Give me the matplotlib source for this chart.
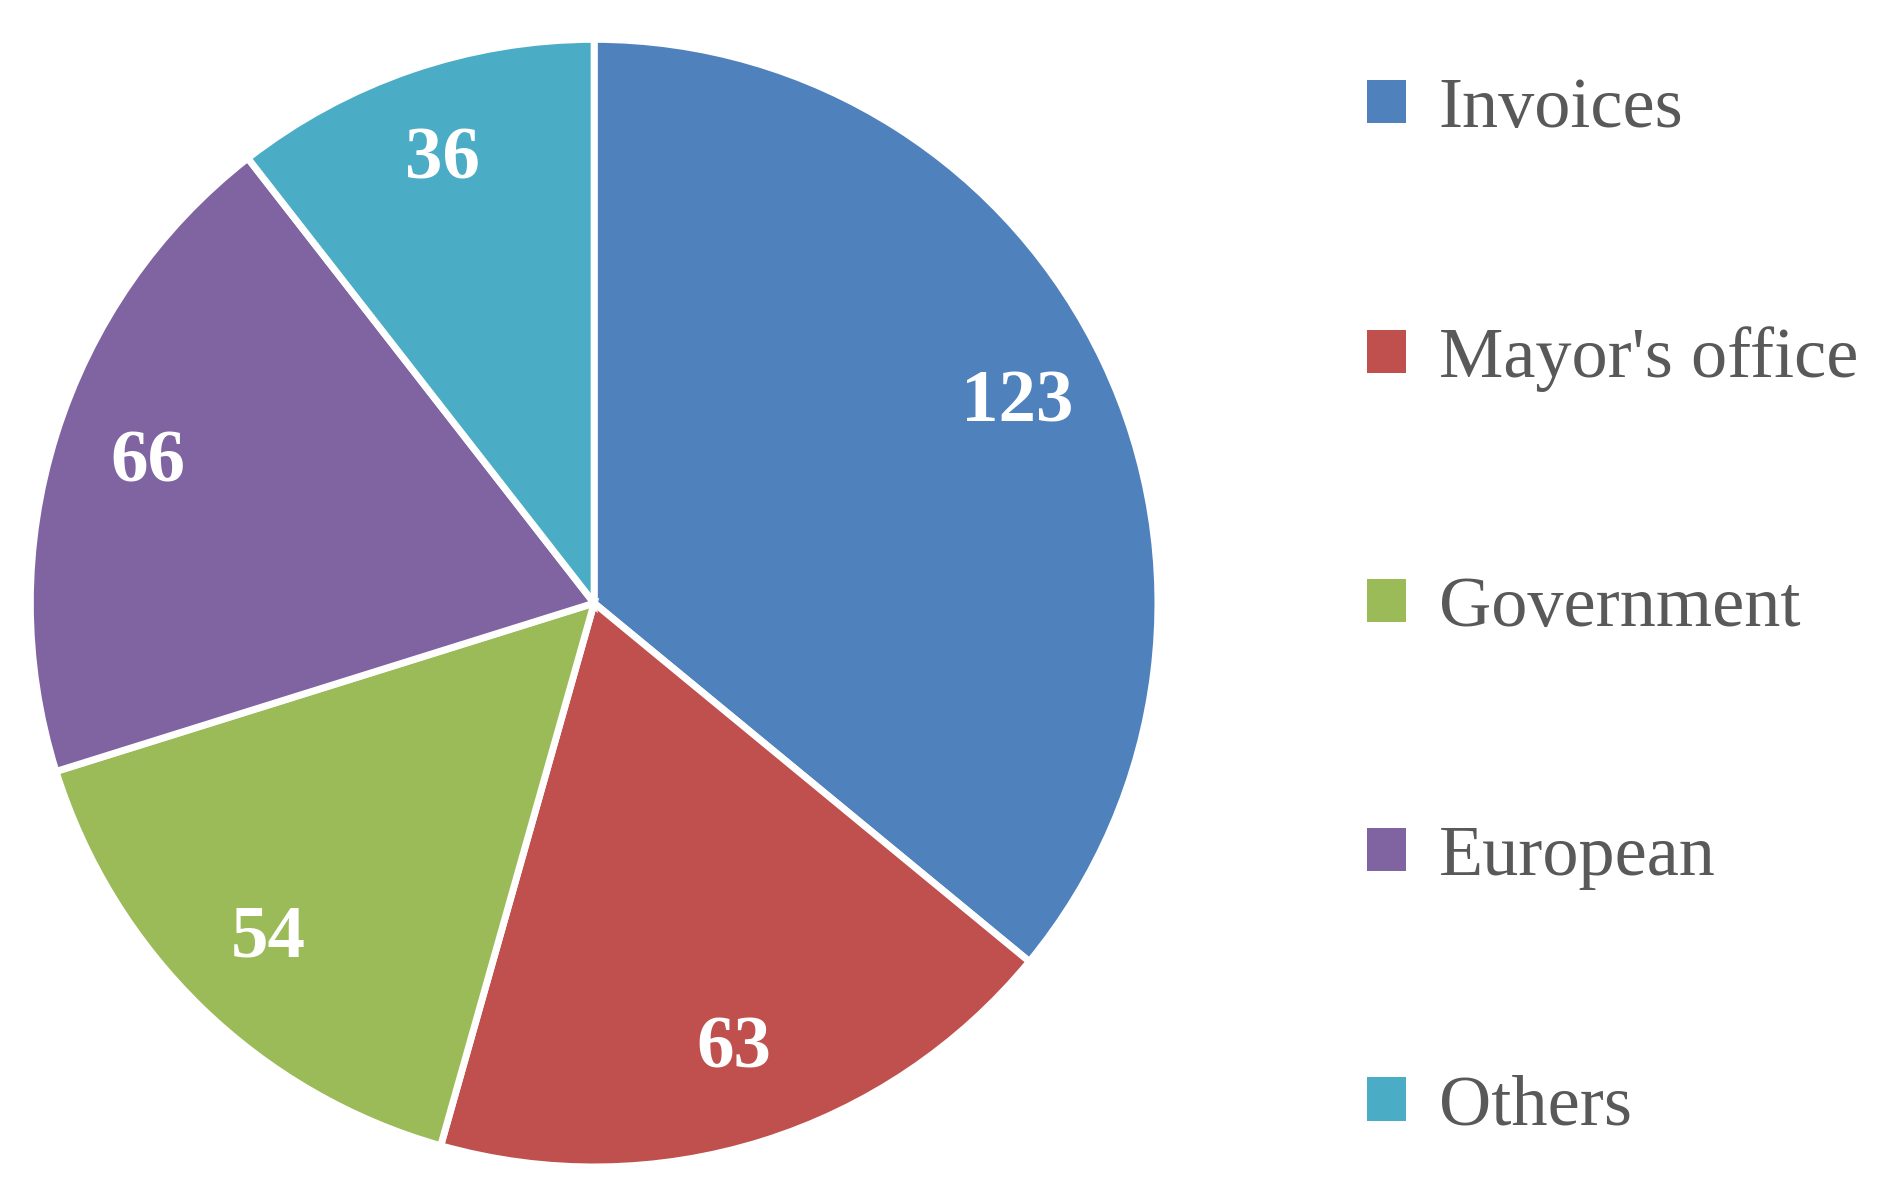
import matplotlib as mpl
mpl.use('Agg')
import matplotlib.pyplot as plt
from matplotlib.patches import Patch

categories = ['Invoices', "Mayor's office", 'Government', 'European', 'Others']
values = [123, 63, 54, 66, 36]
colors = ['#4F81BD', '#C0504D', '#9BBB59', '#8064A2', '#4BACC6']

plt.rcParams['font.family'] = ['Liberation Serif', 'DejaVu Serif']

fig = plt.figure(figsize=(19, 11.92), dpi=100)
ax = fig.add_axes([0.0157, 0.021, 0.594, 0.946])
wedges, texts, autotexts = ax.pie(
    values, colors=colors, startangle=90, counterclock=False,
    autopct=lambda p: '%d' % round(p * sum(values) / 100.0),
    pctdistance=0.83, radius=1,
    wedgeprops={'edgecolor': 'white', 'linewidth': 5})
for t in autotexts:
    t.set_color('white')
    t.set_fontsize(54)
    t.set_fontweight('bold')
ax.set_xlim(-1.0, 1.0)
ax.set_ylim(-1.0, 1.0)
ax.set_aspect('equal')

handles = [Patch(facecolor=c, edgecolor='none') for c in colors]
leg = fig.legend(handles, categories, loc='upper left',
                 bbox_to_anchor=(0.685, 0.99), frameon=False,
                 fontsize=52, labelspacing=2.55, handlelength=0.55,
                 handleheight=0.55, handletextpad=0.45)
for t in leg.get_texts():
    t.set_color('#595959')

fig.savefig('out.png', dpi=100)
